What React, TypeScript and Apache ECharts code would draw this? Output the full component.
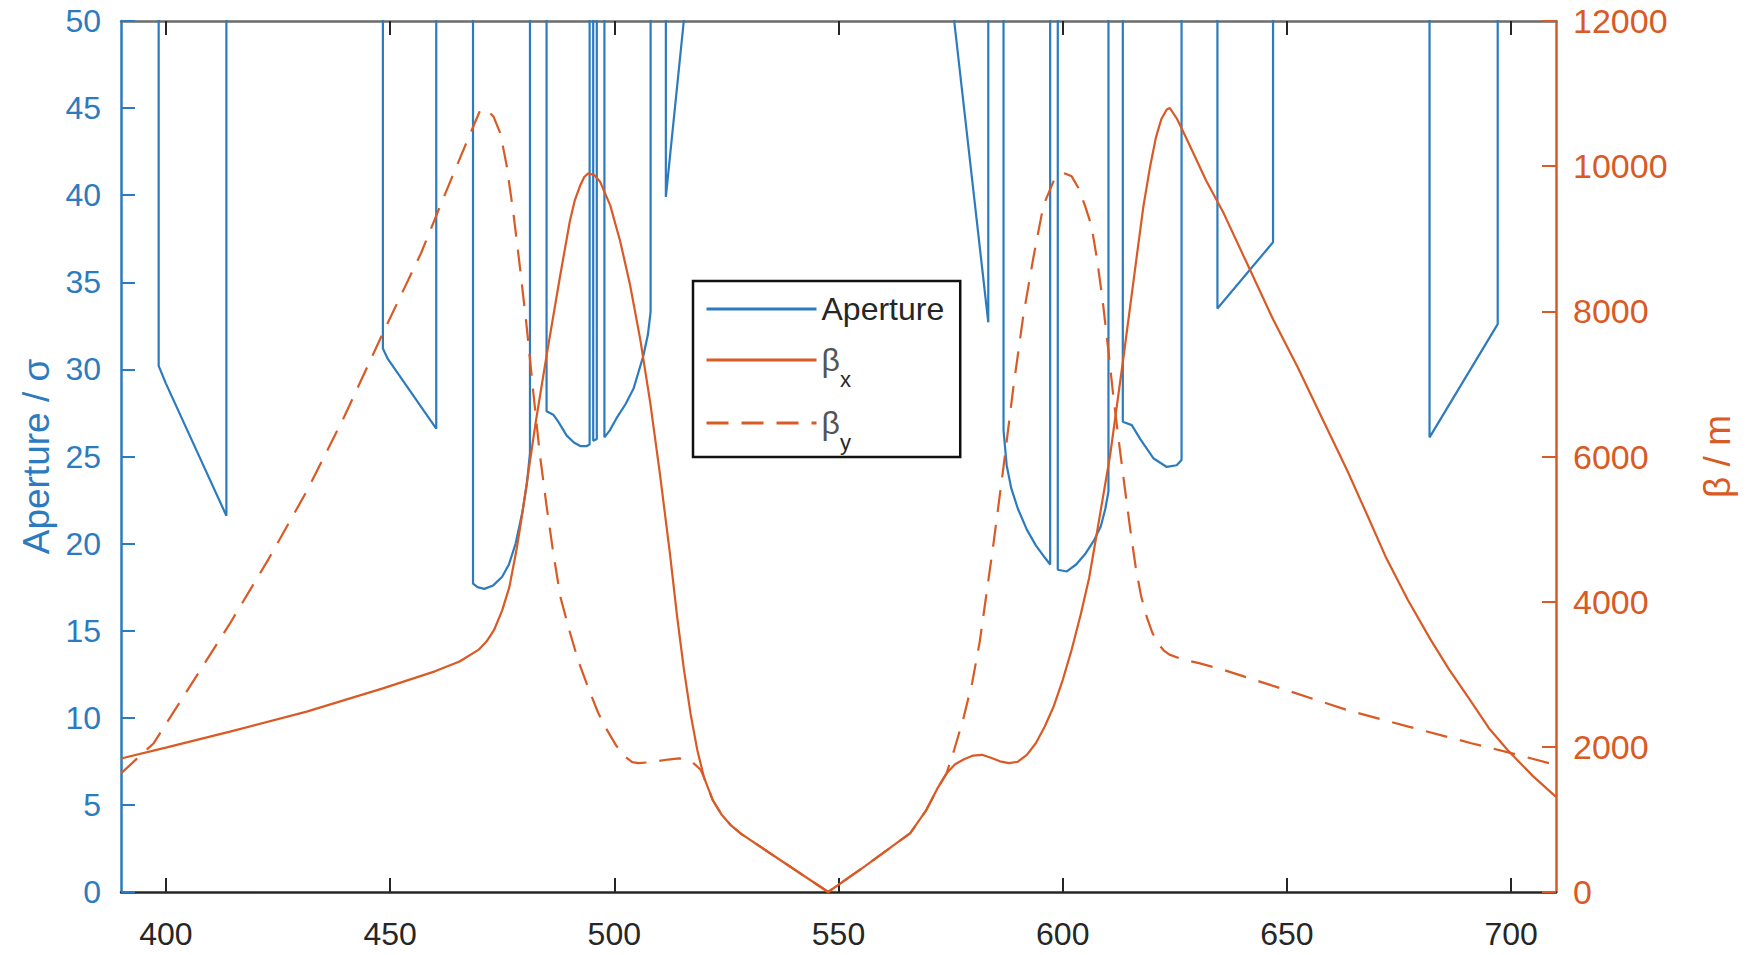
import React, { useEffect, useRef } from 'react';
import * as echarts from 'echarts';

const BLUE = '#2C7BBF';
const ORANGE = '#D95A24';
const DARK = '#262626';
const FONT = '"Liberation Sans", Arial, Helvetica, sans-serif';

const xTicks = [400, 450, 500, 550, 600, 650, 700];

// Aperture / sigma (left axis); 60 = beyond the top of the plot (clipped)
const aperture: [number, number][] = [
  [390, 60], [398.4, 60], [398.4, 30.2], [400, 29.2], [413.5, 21.6], [413.5, 60],
  [448.4, 60], [448.4, 31.2], [449.5, 30.6], [460.3, 26.6], [460.3, 60],
  [468.5, 60], [468.5, 17.7], [469.5, 17.5], [471, 17.4], [473, 17.6], [475, 18.1], [476.5, 18.8],
  [478, 20.0], [479.5, 21.8], [480.5, 23.4], [481.2, 25.2], [481.2, 60],
  [484.9, 60], [484.9, 27.6], [486.4, 27.4], [487.5, 27.0], [489.4, 26.2], [491, 25.8], [492.4, 25.6],
  [493.9, 25.6], [494.5, 25.7], [494.5, 60],
  [495.3, 60], [495.3, 25.9], [496.1, 26.0], [496.1, 60],
  [497.8, 60], [497.8, 26.1], [499, 26.5], [500.5, 27.2], [502.5, 28.0], [504.3, 28.9], [506.5, 30.8],
  [507.5, 32.0], [508.1, 33.3], [508.1, 60],
  [511.5, 60], [511.5, 39.9], [515.5, 50], [516, 60],
  [575.6, 60], [575.8, 50], [583.4, 32.7], [583.4, 60],
  [586.8, 60], [586.8, 26.5], [587.5, 24.5], [588.5, 23.2], [590, 22.0], [592, 20.8], [594, 19.9],
  [596, 19.2], [597.2, 18.8], [597.2, 60],
  [598.9, 60], [598.9, 18.5], [600.9, 18.4], [603, 18.8], [605, 19.4], [607, 20.2], [608.5, 21.0],
  [609.5, 22.0], [610.2, 23.0], [610.2, 60],
  [613.4, 60], [613.4, 27.0], [615.4, 26.8], [617.3, 26.0], [620.2, 24.9], [623.2, 24.4], [625.4, 24.5],
  [626.5, 24.8], [626.5, 60],
  [634.5, 60], [634.5, 33.5], [646.9, 37.3], [646.9, 60],
  [681.8, 60], [681.8, 26.1], [697.0, 32.6], [697.0, 60],
  [710, 60],
];

// beta_x / m (right axis)
const betaX: [number, number][] = [
  [390, 1840], [400, 1990], [414.3, 2210], [431.4, 2485], [448.4, 2805], [460, 3040], [465.5, 3175],
  [469.7, 3335], [471.5, 3450], [473.2, 3610], [475, 3880], [476.6, 4200], [478.3, 4750], [479.5, 5220],
  [481, 5850], [482.5, 6480], [484.9, 7390], [487.9, 8480], [490.1, 9245], [491.2, 9530], [492.4, 9735],
  [493.3, 9850], [494.2, 9900], [495.5, 9880], [496.8, 9790], [499.1, 9460], [501.3, 8970], [503.5, 8370],
  [505.8, 7610], [508, 6750], [510.2, 5750], [512.4, 4670], [514, 3800], [515.5, 3080], [517, 2460],
  [518.5, 1960], [520, 1580], [522, 1260], [524, 1060], [526, 920], [528.3, 800], [538, 400], [547.7, 0],
  [556, 360], [566, 810], [569.5, 1120], [572, 1420], [574.1, 1635], [576, 1760], [578, 1830], [580, 1880],
  [582, 1890], [584, 1850], [586, 1800], [588, 1775], [590, 1795], [592, 1890], [594, 2050], [596, 2280],
  [598, 2560], [600, 2920], [602, 3340], [604, 3820], [605.9, 4330], [607.6, 4940], [610.6, 6030],
  [613.6, 7390], [616.5, 8755], [618, 9450], [619.5, 10000], [620.8, 10400], [622, 10650], [623.2, 10780],
  [623.9, 10800], [625.5, 10650], [627.3, 10420], [629.5, 10130], [632, 9800], [635.9, 9350], [641.4, 8620],
  [646.9, 7890], [652.4, 7230], [657.9, 6520], [663.5, 5800], [668, 5180], [672, 4620], [677, 4020],
  [682, 3480], [686, 3080], [691, 2630], [695, 2260], [699.3, 1950], [704.8, 1600], [710, 1310],
];

// beta_y / m (right axis)
const betaY: [number, number][] = [
  [390, 1635], [397.3, 2050], [405.8, 2875], [414.3, 3700], [422.8, 4575], [431.4, 5520], [439.8, 6550],
  [448.4, 7700], [456.9, 8800], [461.1, 9440], [464.5, 9950], [467.9, 10450], [470.1, 10770],
  [471.5, 10780], [473.1, 10680], [474.6, 10450], [476, 10010], [477.5, 9355], [479, 8590], [480.5, 7770],
  [482, 6850], [483.4, 6030], [484.9, 5320], [486.4, 4670], [488, 4060], [490, 3600], [492, 3180],
  [494.4, 2780], [496.4, 2470], [498.4, 2230], [500.4, 2020], [502.4, 1865], [504, 1790], [505.4, 1775],
  [507.4, 1785], [509.4, 1800], [512, 1825], [514.4, 1840], [516, 1830], [517.3, 1795], [518.3, 1740],
  [519.3, 1680], [520, 1580], [522, 1260], [524, 1060], [526, 920], [528.3, 800], [538, 400],
  [547.7, 0], [556, 360], [566, 810], [569.5, 1120], [572, 1420], [574.1, 1635], [575.8, 1960],
  [577.8, 2380], [579.8, 2880], [581.5, 3450], [583.5, 4330], [584.5, 4770], [586.8, 5860], [589, 6955],
  [591.2, 7935], [593.5, 8755], [595.7, 9460], [598.3, 9845], [600.5, 9900], [602, 9860], [603.5, 9700],
  [605, 9450], [606.4, 9180], [607.7, 8700], [608.9, 8150], [610.2, 7450], [611.4, 6770], [612.7, 6120],
  [613.9, 5540], [615.1, 4980], [616.3, 4465], [617.5, 4070], [618.8, 3775], [620, 3570], [621.3, 3420],
  [622.5, 3330], [623.8, 3270], [627, 3200], [630.6, 3150], [635.9, 3060], [649.7, 2785],
  [663.5, 2505], [677.3, 2275], [691.1, 2050], [700.2, 1910], [710, 1750],
];

export default function App() {
  const ref = useRef<HTMLDivElement>(null);
  useEffect(() => {
    const chart = echarts.init(ref.current as HTMLDivElement, null, { renderer: 'svg' });
    const tickStyle = (color: string) => ({ show: true, inside: true, length: 14, lineStyle: { color, width: 2 } });
    chart.setOption({
      animation: false,
      backgroundColor: '#ffffff',
      color: [BLUE, ORANGE, ORANGE],
      grid: { left: 121, right: 190, top: 21, bottom: 63 },
      legend: {
        orient: 'vertical',
        left: 693,
        top: 281,
        padding: [10, 16, 4, 12],
        itemWidth: 110,
        itemHeight: 2,
        itemGap: 3,
        borderColor: '#111',
        borderWidth: 2.5,
        backgroundColor: '#ffffff',
        itemStyle: { opacity: 0 },
        lineStyle: { width: 3 },
        data: ['Aperture', 'βx', 'βy'],
        formatter: (name: string) => (name === 'Aperture' ? name : `{b|β}{s|${name.slice(1)}}`),
        textStyle: {
          fontSize: 32,
          lineHeight: 36,
          color: DARK,
          fontFamily: FONT,
          rich: {
            b: { fontSize: 32, lineHeight: 60, color: '#555', fontFamily: FONT },
            s: { fontSize: 22, lineHeight: 22, verticalAlign: 'bottom', color: DARK, fontFamily: FONT },
          },
        },
      },
      xAxis: [
        {
          type: 'value', min: 390, max: 710, position: 'bottom',
          axisLine: { show: true, onZero: false, lineStyle: { color: DARK, width: 2.5 } },
          axisTick: { ...tickStyle(DARK), customValues: xTicks },
          axisLabel: { show: true, customValues: xTicks, margin: 26, fontSize: 32, color: DARK, fontFamily: FONT },
          splitLine: { show: false },
        },
        {
          type: 'value', min: 390, max: 710, position: 'top',
          axisLine: { show: true, onZero: false, lineStyle: { color: '#6b6b6b', width: 2.5 } },
          axisTick: { ...tickStyle(DARK), customValues: xTicks },
          axisLabel: { show: false },
          splitLine: { show: false },
        },
      ],
      yAxis: [
        {
          type: 'value', min: 0, max: 50, interval: 5, position: 'left',
          name: 'Aperture / σ', nameLocation: 'middle', nameGap: 66, nameRotate: 90,
          nameTextStyle: { fontSize: 37, color: BLUE, fontFamily: FONT },
          axisLine: { show: true, onZero: false, lineStyle: { color: BLUE, width: 2.5 } },
          axisTick: tickStyle(BLUE),
          axisLabel: { margin: 20, fontSize: 32, color: BLUE, fontFamily: FONT },
          splitLine: { show: false },
        },
        {
          type: 'value', min: 0, max: 12000, interval: 2000, position: 'right',
          name: 'β / m', nameLocation: 'middle', nameGap: 143, nameRotate: 90,
          nameTextStyle: { fontSize: 37, color: ORANGE, fontFamily: FONT },
          axisLine: { show: true, onZero: false, lineStyle: { color: ORANGE, width: 2.5 } },
          axisTick: tickStyle(ORANGE),
          axisLabel: {
            margin: 17, fontSize: 34, color: ORANGE, fontFamily: FONT,
            formatter: (v: number) => String(v),
          },
          splitLine: { show: false },
        },
      ],
      series: [
        {
          name: 'Aperture', type: 'line', xAxisIndex: 0, yAxisIndex: 0, data: aperture,
          symbol: 'none', clip: true,
          itemStyle: { color: BLUE }, lineStyle: { color: BLUE, width: 2.2 },
        },
        {
          name: 'βx', type: 'line', xAxisIndex: 0, yAxisIndex: 1, data: betaX,
          symbol: 'none', clip: true,
          itemStyle: { color: ORANGE }, lineStyle: { color: ORANGE, width: 2.2 },
        },
        {
          name: 'βy', type: 'line', xAxisIndex: 0, yAxisIndex: 1, data: betaY,
          symbol: 'none', clip: true,
          itemStyle: { color: ORANGE }, lineStyle: { color: ORANGE, width: 2.2, type: [22, 13] },
        },
      ],
    });
    return () => chart.dispose();
  }, []);
  return (
    <div
      ref={ref}
      style={{ position: 'fixed', left: 0, top: 0, width: 1746, height: 955, background: '#fff' }}
    />
  );
}
